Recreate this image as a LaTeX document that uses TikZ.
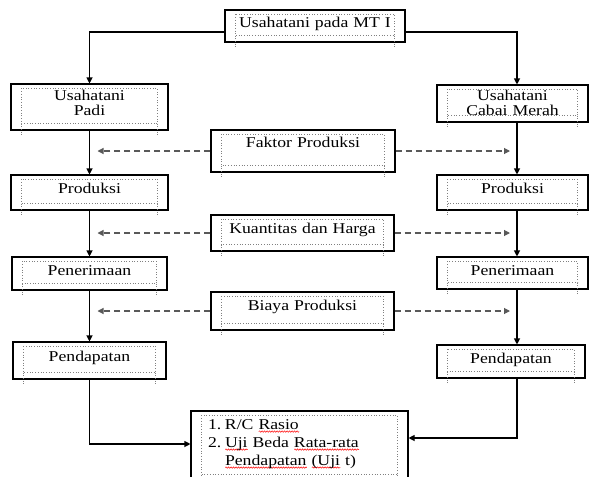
\documentclass[tikz,border=0pt]{standalone}
\usepackage{fontspec}
\setmainfont{Liberation Serif}[FakeStretch=1.18]
\usepackage{tikz}
\usetikzlibrary{calc,arrows.meta,decorations.pathmorphing}

% red spelling wave under a word
\newsavebox{\wavebox}
\newlength{\wavelen}
\newcommand{\redwave}[1]{%
	\sbox{\wavebox}{#1}\setlength{\wavelen}{\wd\wavebox}%
	\rlap{\raisebox{-3.5pt}[0pt][0pt]{\tikz\draw[red,line width=0.5pt,decorate,
		decoration={snake,amplitude=0.7pt,segment length=2.5pt}] (0pt,0pt) -- (\wavelen,0pt);}}%
	\usebox{\wavebox}}

% dotted frame of the word text box
\newcommand{\dotbox}[1]{%
	\draw[inframe]
	($(#1.north west)+(11,5)$) rectangle ($(#1.south east)+(-11,-7)$);
	\draw[inframe]
	($(#1.south west)+(11,-7)$) -- +(0,11);
	\draw[inframe]
	($(#1.south east)+(-11,-7)$) -- +(0,11);
}

\tikzset{
	box/.style={draw,line width=1.1pt,inner xsep=0pt,inner ysep=0pt,
		align=center,text height=18pt,font=\fontsize{15}{15}\selectfont},
	inframe/.style={gray,dotted,line width=0.7pt},
	conn/.style={line width=1.1pt,-{Triangle[length=6pt,width=6pt]}},
	dconn/.style={conn,gray!70!black,dash pattern=on 6pt off 4pt}
}

\begin{document}
\begin{tikzpicture}[x=1pt,y=-1pt]
	\useasboundingbox (0,0) rectangle (590,477);
	\coordinate (lcol) at (89.5,0);
	\coordinate (rcol) at (517,0);
	% boxes
	\node[box,text width=180pt,text height=17pt,text depth=15pt] (mt) at (315,26) {Usahatani pada MT I};
	\node[box,text width=157pt,text height=16.5pt,text depth=29.5pt] (padi) at (89.5,107) {Usahatani\\Padi};
	\node[box,text width=151pt,text height=15.5pt,text depth=21.5pt] (cabai) at (512.5,103.5) {Usahatani\\Cabai Merah};
	\node[box,text width=184pt,text height=17pt,text depth=25pt] (faktor) at (303,151) {Faktor Produksi};
	\node[box,text width=157pt,text depth=17pt] (prodL) at (89.5,192.5) {Produksi};
	\node[box,text width=151pt,text depth=17pt] (prodR) at (512.5,192.5) {Produksi};
	\node[box,text width=183pt,text depth=18pt] (kuant) at (302.5,233) {Kuantitas dan Harga};
	\node[box,text width=155pt,text depth=15pt] (penL) at (89.5,273.5) {Penerimaan};
	\node[box,text width=151pt,text depth=14pt] (penR) at (512.5,273) {Penerimaan};
	\node[box,text width=183pt,text depth=20pt] (biaya) at (302.5,311) {Biaya Produksi};
	\node[box,text width=153pt,text height=19pt,text depth=18pt] (pendL) at (89.5,360.5) {Pendapatan};
	\node[box,text width=148pt,text depth=15pt] (pendR) at (511,361.5) {Pendapatan};
	\node[box,text width=217pt,text depth=52pt,align=left,font=\fontsize{15}{18}\selectfont] (rc) at (299.5,446)
		{\hspace*{17pt}\makebox[17pt][l]{1.}R/C \redwave{Rasio}\\
		 \hspace*{17pt}\makebox[17pt][l]{2.}\redwave{Uji} Beda \redwave{Rata-rata}\\
		 \hspace*{34pt}\redwave{Pendapatan} \redwave{(Uji} t)};
	\foreach \n in {mt,padi,cabai,faktor,prodL,prodR,kuant,penL,penR,biaya,pendL,pendR,rc}
		\dotbox{\n};
	% solid connectors
	\draw[conn]
	([yshift=-6pt]mt.west) -| (padi.north);
	\draw[conn]
	([yshift=-6pt]mt.east) -| (cabai.north -| rcol);
	\draw[conn] (padi) -- (prodL);
	\draw[conn] (prodL) -- (penL);
	\draw[conn] (penL) -- (pendL);
	\draw[conn] (cabai.south -| rcol) -- (prodR.north -| rcol);
	\draw[conn] (prodR.south -| rcol) -- (penR.north -| rcol);
	\draw[conn] (penR.south -| rcol) -- (pendR.north -| rcol);
	\draw[conn]
	(pendL.south) |- ([yshift=2pt]rc.west);
	\draw[conn]
	(pendR.south -| rcol) |- ([yshift=8pt]rc.east);
	% dashed connectors
	\foreach \n in {faktor,kuant,biaya}{
		\draw[dconn]
		(\n.west) -- ($(\n.west -| lcol)+(8,0)$);
		\draw[dconn]
		(\n.east) -- ($(\n.east -| rcol)+(-7,0)$);
	}
\end{tikzpicture}
\end{document}
